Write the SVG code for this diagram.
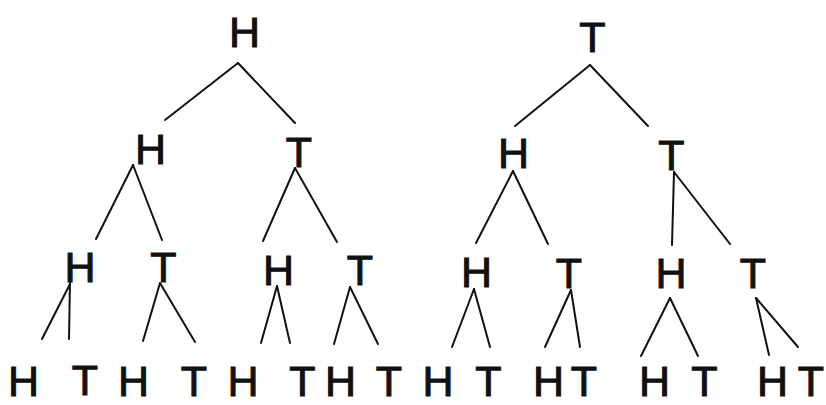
<svg xmlns="http://www.w3.org/2000/svg" width="826" height="405" viewBox="0 0 826 405">
<style>
text{font-family:"Liberation Sans",Arial,sans-serif;font-size:43px;fill:#111;stroke:#111;stroke-width:1;text-anchor:middle}
.c line{stroke:#111;stroke-width:2;stroke-linecap:round}
</style>
<rect width="826" height="405" fill="#fff"/>
<g class="c" id="connectors">
<line x1="238" y1="63" x2="165" y2="120"/><line x1="238" y1="63" x2="295" y2="123"/>
<line x1="133" y1="165" x2="96" y2="239"/><line x1="133" y1="165" x2="162" y2="240"/>
<line x1="295" y1="168" x2="263" y2="241"/><line x1="295" y1="168" x2="337" y2="242"/>
<line x1="70" y1="284" x2="42" y2="339"/><line x1="70" y1="280" x2="69" y2="339"/>
<line x1="160" y1="283" x2="143" y2="341"/><line x1="160" y1="283" x2="195" y2="342"/>
<line x1="277" y1="286" x2="261" y2="343"/><line x1="277" y1="286" x2="290" y2="343"/>
<line x1="350" y1="287" x2="334" y2="344"/><line x1="350" y1="287" x2="378" y2="344"/>
<line x1="590" y1="65" x2="515" y2="126"/><line x1="590" y1="65" x2="648" y2="126"/>
<line x1="513" y1="171" x2="476" y2="243"/><line x1="513" y1="171" x2="548" y2="244"/>
<line x1="674" y1="172" x2="672" y2="245"/><line x1="674" y1="172" x2="730" y2="244"/>
<line x1="474" y1="289" x2="452" y2="347"/><line x1="474" y1="289" x2="490" y2="347"/>
<line x1="571" y1="290" x2="545" y2="347"/><line x1="571" y1="290" x2="580" y2="347"/>
<line x1="670" y1="298" x2="641" y2="356"/><line x1="670" y1="298" x2="698" y2="356"/>
<line x1="756" y1="298" x2="769" y2="355"/><line x1="756" y1="298" x2="798" y2="347"/>
</g>
<g id="L"><text x="244.5" y="47">H</text></g>
<g id="LH"><text x="150.5" y="164">H</text></g>
<g id="LT"><text x="299" y="167">T</text></g>
<g id="LHH"><text x="80" y="282">H</text></g>
<g id="LHT"><text x="163.5" y="282">T</text></g>
<g id="LTH"><text x="278.5" y="285">H</text></g>
<g id="LTT"><text x="360" y="285">T</text></g>
<g id="LHHH"><text x="23.5" y="396">H</text></g>
<g id="LHHT"><text x="85" y="395">T</text></g>
<g id="LHTH"><text x="133.5" y="396">H</text></g>
<g id="LHTT"><text x="194" y="396">T</text></g>
<g id="LTHH"><text x="243" y="396">H</text></g>
<g id="LTHT"><text x="302.5" y="396">T</text></g>
<g id="LTTH"><text x="340.5" y="396">H</text></g>
<g id="LTTT"><text x="389" y="396">T</text></g>
<g id="R"><text x="592.5" y="52">T</text></g>
<g id="RH"><text x="513.5" y="168">H</text></g>
<g id="RT"><text x="671.5" y="170">T</text></g>
<g id="RHH"><text x="476.5" y="287">H</text></g>
<g id="RHT"><text x="569" y="288">T</text></g>
<g id="RTH"><text x="671" y="288">H</text></g>
<g id="RTT"><text x="753" y="288">T</text></g>
<g id="RHHH"><text x="438" y="396">H</text></g>
<g id="RHHT"><text x="488.5" y="396">T</text></g>
<g id="RHTH"><text x="548.5" y="396">H</text></g>
<g id="RHTT"><text x="584" y="396">T</text></g>
<g id="RTHH"><text x="654.5" y="396">H</text></g>
<g id="RTHT"><text x="704.5" y="396">T</text></g>
<g id="RTTH"><text x="772.5" y="396">H</text></g>
<g id="RTTT"><text x="811" y="396">T</text></g>
</svg>
